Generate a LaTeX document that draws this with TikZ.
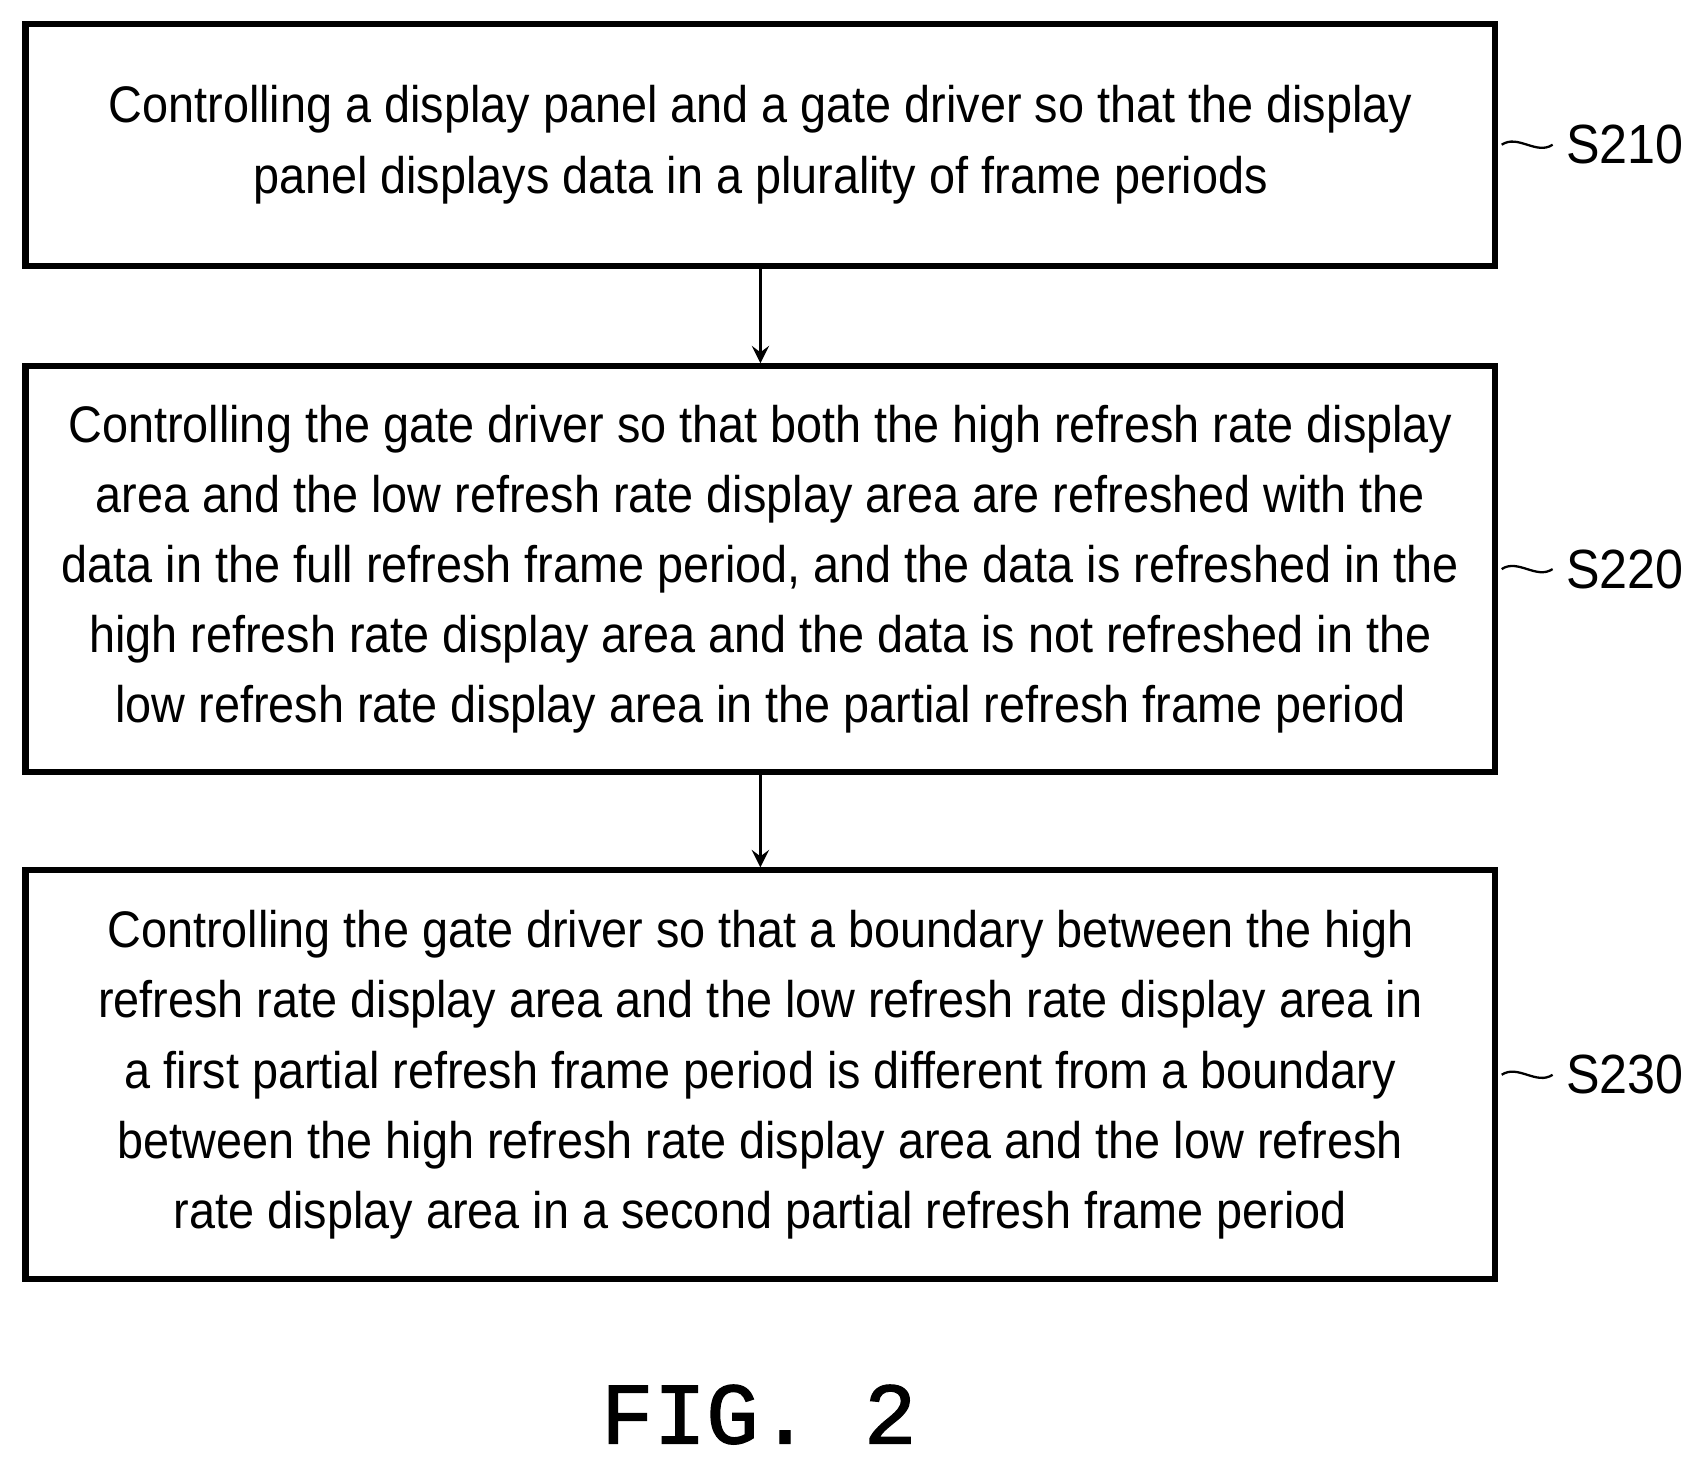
\documentclass[tikz,border=0pt]{standalone}
\usepackage{fontspec}
\setmainfont{Liberation Sans}[FakeStretch=0.91]
\newfontfamily\figfont{Liberation Mono}[FakeBold=1.5]
\usetikzlibrary{positioning}
\begin{document}
\begin{tikzpicture}[
    stepbox/.style={draw,line width=1.6pt,minimum width=13.56cm,align=center,
      font=\fontsize{13.5}{18.4}\selectfont,inner sep=0pt},
    flow/.style={line width=1pt,->,>=stealth},
    tag/.style={font=\fontsize{14.5}{18}\selectfont,anchor=west,inner sep=0pt},
  ]
    % canvas
    \useasboundingbox (0,0) rectangle (15.6,-13.54);

    % steps
    \node[stepbox,minimum height=2.23cm] (s210) at (7.015,-1.335)
      {Controlling a display panel and a gate driver so that the display\\
       panel displays data in a plurality of frame periods};
    \node[stepbox,minimum height=3.74cm] (s220) at (7.015,-5.25)
      {Controlling the gate driver so that both the high refresh rate display\\
       area and the low refresh rate display area are refreshed with the\\
       data in the full refresh frame period, and the data is refreshed in the\\
       high refresh rate display area and the data is not refreshed in the\\
       low refresh rate display area in the partial refresh frame period};
    \node[stepbox,minimum height=3.77cm] (s230) at (7.015,-9.915)
      {Controlling the gate driver so that a boundary between the high\\
       refresh rate display area and the low refresh rate display area in\\
       a first partial refresh frame period is different from a boundary\\
       between the high refresh rate display area and the low refresh\\
       rate display area in a second partial refresh frame period};

    % arrows
    \draw[flow] (s210) -- (s220);
    \draw[flow] (s220) -- (s230);

    % step labels
    \foreach \s in {210,220,230}{
      \coordinate (w\s) at ([xshift=0.5cm]s\s.east);
      \node[tag] (t\s) at ([xshift=0.12cm]w\s) {S\s};
      \draw[line width=0.6pt] (s\s.east) ++(0.03,0) .. controls +(0.15,0.1) and +(-0.15,-0.1) .. (w\s);
    }

    \node[font=\figfont\fontsize{23}{26}\selectfont] (fig) at (7.0,-13.05) {FIG. 2};
\end{tikzpicture}
\end{document}
